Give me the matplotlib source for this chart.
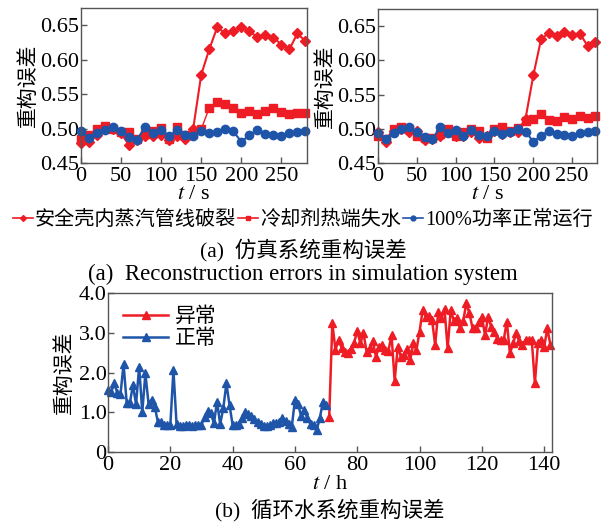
import numpy as np
import matplotlib.pyplot as plt
from matplotlib.lines import Line2D

plt.rcParams['font.family'] = ['Liberation Serif', 'Noto Sans CJK SC']
plt.rcParams['mathtext.fontset'] = 'stix'

RED = '#ee1c25'
BLUE = '#1f55a8'

# simulation system, sampled every 10 s
t_sim = np.arange(0, 290, 10)

# left panel
left_rupture = [0.479, 0.481, 0.491, 0.501, 0.500, 0.493, 0.476, 0.484, 0.489, 0.489,
                0.491, 0.484, 0.489, 0.485, 0.500, 0.578, 0.615, 0.647, 0.638, 0.641,
                0.648, 0.641, 0.633, 0.636, 0.632, 0.622, 0.615, 0.638, 0.627]
left_loca = [0.485, 0.490, 0.499, 0.503, 0.500, 0.495, 0.495, 0.485, 0.492, 0.497,
             0.501, 0.485, 0.502, 0.490, 0.492, 0.499, 0.530, 0.539, 0.535, 0.530,
             0.522, 0.526, 0.521, 0.525, 0.530, 0.524, 0.521, 0.522, 0.522]
left_normal = [0.496, 0.487, 0.494, 0.498, 0.502, 0.496, 0.488, 0.484, 0.502, 0.494,
               0.498, 0.489, 0.498, 0.491, 0.489, 0.497, 0.493, 0.495, 0.500, 0.496,
               0.481, 0.490, 0.498, 0.492, 0.491, 0.489, 0.494, 0.495, 0.497]

# right panel
right_rupture = [0.495, 0.481, 0.497, 0.500, 0.496, 0.497, 0.483, 0.485, 0.489, 0.495,
                 0.490, 0.490, 0.495, 0.486, 0.489, 0.497, 0.492, 0.495, 0.495, 0.515,
                 0.578, 0.631, 0.640, 0.636, 0.642, 0.637, 0.639, 0.621, 0.627]
right_loca = [0.490, 0.485, 0.500, 0.503, 0.500, 0.490, 0.487, 0.487, 0.492, 0.500,
              0.490, 0.495, 0.500, 0.497, 0.486, 0.500, 0.503, 0.497, 0.501, 0.512,
              0.515, 0.522, 0.513, 0.512, 0.517, 0.514, 0.519, 0.516, 0.519]
right_normal = [0.494, 0.485, 0.494, 0.499, 0.502, 0.496, 0.488, 0.485, 0.502, 0.494,
                0.498, 0.489, 0.498, 0.491, 0.489, 0.497, 0.493, 0.495, 0.499, 0.496,
                0.481, 0.490, 0.497, 0.492, 0.491, 0.489, 0.494, 0.495, 0.497]

labels_sim = ['安全壳内蒸汽管线破裂', '冷却剂热端失水', '100%功率正常运行']

# circulating water system, hourly
t_normal = np.arange(0, 71)
err_normal = [1.55, 1.50, 1.73, 1.48, 1.45, 2.21, 1.23, 1.23, 1.68, 1.20,
              2.15, 1.00, 1.98, 1.22, 1.32, 1.14, 0.76, 0.76, 0.68, 0.67,
              0.67, 2.06, 0.70, 0.66, 0.66, 0.67, 0.67, 0.66, 0.67, 0.67,
              0.68, 0.89, 1.02, 0.98, 0.72, 1.27, 0.70, 1.10, 1.73, 1.18,
              0.68, 0.68, 0.70, 0.85, 1.00, 0.95, 0.90, 0.82, 0.75, 0.70,
              0.66, 0.66, 0.67, 0.72, 0.74, 0.75, 0.85, 0.78, 0.70, 0.64,
              1.32, 1.20, 0.90, 1.05, 0.85, 0.70, 0.68, 0.56, 0.86, 1.27,
              1.18]
t_abnormal = np.arange(71, 143)
err_abnormal = [0.89, 3.24, 2.57, 2.82, 2.62, 2.52, 2.50, 2.60, 2.75, 3.05,
                2.73, 2.99, 2.52, 2.62, 2.78, 2.40, 2.65, 2.69, 2.57, 2.55,
                2.94, 1.79, 2.65, 2.40, 2.45, 2.60, 2.32, 2.73, 2.57, 3.03,
                3.57, 3.40, 3.42, 3.33, 2.69, 3.53, 3.36, 3.61, 2.61, 3.57,
                3.30, 3.36, 3.11, 3.30, 3.74, 3.49, 3.11, 3.11, 3.28, 3.40,
                2.94, 3.40, 3.15, 3.02, 2.85, 2.82, 2.82, 3.28, 2.48, 2.73,
                2.99, 2.78, 2.69, 2.82, 2.82, 2.82, 1.73, 2.73, 2.82, 2.65,
                3.11, 2.69]

fig = plt.figure(figsize=(6.06, 5.23), dpi=100)
W, H = 606, 523


def box(l, t, r, b):
    return [l / W, 1 - b / H, (r - l) / W, (b - t) / H]


def style(ax):
    for s in ax.spines.values():
        s.set_color('#555555')
        s.set_linewidth(1.0)
    ax.tick_params(direction='in', length=4, width=1, color='#555555',
                   labelsize=16, pad=1)
    ax.tick_params(axis='x', pad=3)


ax1 = fig.add_axes(box(81, 8, 307, 163))
ax2 = fig.add_axes(box(378, 9, 597, 163))

for ax, r, l, n in [(ax1, left_rupture, left_loca, left_normal),
                    (ax2, right_rupture, right_loca, right_normal)]:
    ax.plot(t_sim, r, color=RED, marker='D', ms=5, lw=1.5, clip_on=False)
    ax.plot(t_sim, l, color=RED, marker='s', ms=5.5, lw=1.0, clip_on=False)
    ax.plot(t_sim, n, color=BLUE, marker='o', ms=6, lw=1.5, clip_on=False)
    ax.set_xlim(0, 282)
    ax.set_ylim(0.45, 0.675)
    ax.set_xticks([0, 50, 100, 150, 200, 250])
    ax.set_yticks([0.45, 0.50, 0.55, 0.60, 0.65])
    ax.set_yticklabels(['0.45', '0.50', '0.55', '0.60', '0.65'])
    style(ax)
    ax.set_xlabel('$t$ / s', fontsize=16, labelpad=-1)
    ax.set_ylabel('重构误差', fontsize=15, labelpad=1)

handles = [Line2D([], [], color=RED, marker='D', ms=3, lw=1.2),
           Line2D([], [], color=RED, marker='s', ms=3, lw=1.2),
           Line2D([], [], color=BLUE, marker='o', ms=3.5, lw=1.2)]
fig.legend(handles, labels_sim, loc='center', bbox_to_anchor=(0.5, 1 - 220 / H),
           ncol=3, frameon=False, fontsize=14.5, handlelength=1.0,
           handletextpad=0.1, columnspacing=0.1, borderpad=0)

fig.text(0.5, 1 - 250 / H, '(a)  仿真系统重构误差', ha='center', va='center', fontsize=15.5)
fig.text(0.5, 1 - 274 / H, '(a)  Reconstruction errors in simulation system',
         ha='center', va='center', fontsize=16.5)

ax3 = fig.add_axes(box(108, 293, 552, 452))
ax3.plot(t_abnormal, err_abnormal, color=RED, marker='^', ms=5.5, lw=1.8,
         clip_on=False, label='异常')
ax3.plot(t_normal, err_normal, color=BLUE, marker='^', ms=5.5, lw=1.8,
         clip_on=False, label='正常')
ax3.set_xlim(0, 142.5)
ax3.set_ylim(0, 4.0)
ax3.set_xticks([0, 20, 40, 60, 80, 100, 120, 140])
ax3.set_yticks([0, 1, 2, 3, 4])
ax3.set_yticklabels(['0', '1.0', '2.0', '3.0', '4.0'])
style(ax3)
ax3.set_xlabel('$t$ / h', fontsize=16, labelpad=0)
ax3.set_ylabel('重构误差', fontsize=15, labelpad=3)
ax3.legend(loc='upper left', frameon=False, fontsize=15, handlelength=2.2,
           handletextpad=0.3, labelspacing=0.1, borderaxespad=0.3)

fig.text(330 / W, 1 - 510 / H, '(b)  循环水系统重构误差', ha='center', va='center',
         fontsize=15.5)

fig.savefig('out.png', dpi=100)
